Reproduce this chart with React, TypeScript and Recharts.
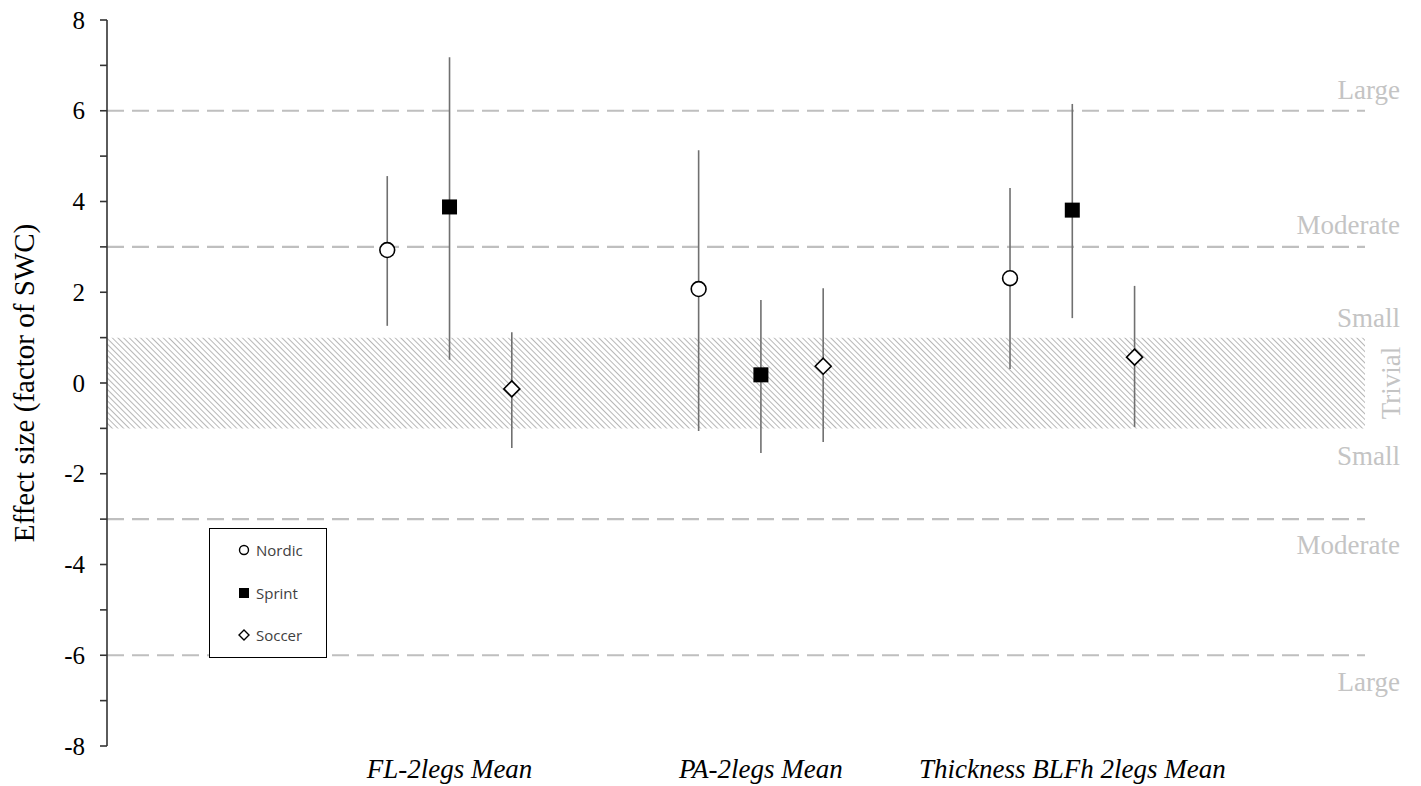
import {
  ErrorBar,
  Legend,
  ReferenceArea,
  ReferenceDot,
  ReferenceLine,
  Scatter,
  ScatterChart,
  XAxis,
  YAxis,
} from 'recharts'

const categories = ['FL-2legs Mean', 'PA-2legs Mean', 'Thickness BLFh 2legs Mean']
const categoryX = [1, 2, 3]

const seriesNames = ['Nordic', 'Sprint', 'Soccer']
const seriesX = [
  [0.8, 1.8, 2.8],
  [1, 2, 3],
  [1.2, 2.2, 3.2],
]
const seriesMean = [
  [2.93, 2.07, 2.31],
  [3.88, 0.18, 3.81],
  [-0.13, 0.37, 0.57],
]
const seriesLow = [
  [1.26, -1.06, 0.31],
  [0.51, -1.54, 1.43],
  [-1.43, -1.3, -0.97],
]
const seriesHigh = [
  [4.56, 5.13, 4.3],
  [7.18, 1.83, 6.15],
  [1.12, 2.09, 2.14],
]

const yTicks = [-8, -7, -6, -5, -4, -3, -2, -1, 0, 1, 2, 3, 4, 5, 6, 7, 8]
const thresholds = [6, 3, -3, -6]
const trivialBand = [-1, 1]
const zoneLabels = [
  { text: 'Large', y: 6.45 },
  { text: 'Moderate', y: 3.48 },
  { text: 'Small', y: 1.43 },
  { text: 'Small', y: -1.6 },
  { text: 'Moderate', y: -3.57 },
  { text: 'Large', y: -6.6 },
]

const X_MIN = -0.1
const X_MAX = 3.94
const SERIF = '"Liberation Serif", "Times New Roman", serif'
const LABEL_GRAY = '#c4c4c4'

const seriesData = seriesNames.map((_, s) =>
  seriesX[s].map((x, i) => ({
    x,
    y: seriesMean[s][i],
    err: [seriesMean[s][i] - seriesLow[s][i], seriesHigh[s][i] - seriesMean[s][i]],
  })),
)

function CircleMark(props: any) {
  return <circle cx={props.cx} cy={props.cy} r={7.4} fill="#fff" stroke="#000" strokeWidth={1.6} />
}

function SquareMark(props: any) {
  return <rect x={props.cx - 7.5} y={props.cy - 7.5} width={15} height={15} fill="#000" />
}

function DiamondMark(props: any) {
  const { cx, cy } = props
  return (
    <path
      d={`M${cx},${cy - 8}L${cx + 8},${cy}L${cx},${cy + 8}L${cx - 8},${cy}Z`}
      fill="#fff"
      stroke="#000"
      strokeWidth={1.6}
    />
  )
}

const shapes = [CircleMark, SquareMark, DiamondMark]

function YTick(props: any) {
  const { x, y, payload } = props
  if (payload.value % 2 !== 0) return null
  return (
    <text x={x} y={y} textAnchor="end" dominantBaseline="central" fontFamily={SERIF} fontSize={25} fill="#000">
      {payload.value}
    </text>
  )
}

function LegendIcon({ index }: { index: number }) {
  return (
    <svg width={12} height={12} style={{ display: 'block' }}>
      {index === 0 && <circle cx={6} cy={6} r={4.5} fill="#fff" stroke="#000" strokeWidth={1.4} />}
      {index === 1 && <rect x={1} y={1} width={10} height={10} fill="#000" />}
      {index === 2 && <path d="M6,1L11,6L6,11L1,6Z" fill="#fff" stroke="#000" strokeWidth={1.4} />}
    </svg>
  )
}

function LegendBox() {
  return (
    <div
      style={{
        width: 118,
        height: 130,
        boxSizing: 'border-box',
        border: '1.5px solid #000',
        background: '#fff',
        fontFamily: '"Open Sans", "Noto Sans", sans-serif',
        fontSize: 15,
        color: '#404040',
      }}
    >
      {seriesNames.map((name, i) => (
        <div key={name} style={{ height: 42.5, display: 'flex', alignItems: 'center', paddingLeft: 28 }}>
          <LegendIcon index={i} />
          <span style={{ marginLeft: 6 }}>{name}</span>
        </div>
      ))}
    </div>
  )
}

export default function App() {
  return (
    <div style={{ position: 'absolute', left: 0, top: 0, background: '#fff', fontFamily: SERIF }}>
      <ScatterChart width={1421} height={786} margin={{ top: 20, right: 56, bottom: 0, left: 0 }}>
        <defs>
          <pattern id="hatch" width={4} height={4} patternUnits="userSpaceOnUse" patternTransform="rotate(-45)">
            <rect width={4} height={4} fill="#fff" />
            <line x1={0} y1={0} x2={0} y2={4} stroke="#aaaaaa" strokeWidth={1.7} />
          </pattern>
        </defs>
        <XAxis
          type="number"
          dataKey="x"
          domain={[X_MIN, X_MAX]}
          ticks={categoryX}
          tickFormatter={(v) => categories[categoryX.indexOf(v)] ?? ''}
          axisLine={false}
          tickLine={false}
          tickSize={0}
          tickMargin={13}
          height={40}
          interval={0}
          tick={{ fill: '#000', fontSize: 27, fontStyle: 'italic', fontFamily: SERIF }}
        />
        <YAxis
          type="number"
          dataKey="y"
          domain={[-8, 8]}
          ticks={yTicks}
          interval={0}
          width={107}
          axisLine={{ stroke: '#333', strokeWidth: 1.6 }}
          tickLine={{ stroke: '#333', strokeWidth: 1.6 }}
          tickSize={7}
          tickMargin={15}
          tick={<YTick />}
          label={{
            content: ({ viewBox }: any) => {
              const cx = viewBox.x + 24
              const cy = viewBox.y + viewBox.height / 2
              return (
                <text
                  x={cx}
                  y={cy}
                  transform={`rotate(-90, ${cx}, ${cy})`}
                  textAnchor="middle"
                  dominantBaseline="central"
                  fontFamily={SERIF}
                  fontSize={29}
                  fill="#000"
                >
                  Effect size (factor of SWC)
                </text>
              )
            },
          }}
        />
        <ReferenceArea
          y1={trivialBand[0]}
          y2={trivialBand[1]}
          fill="url(#hatch)"
          fillOpacity={1}
          stroke="none"
          ifOverflow="extendDomain"
        />
        {thresholds.map((t) => (
          <ReferenceLine key={t} y={t} stroke="#bfbfbf" strokeWidth={2.2} strokeDasharray="17 8" />
        ))}
        {zoneLabels.map((z, i) => (
          <ReferenceDot
            key={i}
            x={X_MAX}
            y={z.y}
            r={1}
            fill="none"
            stroke="none"
            label={{
              content: ({ viewBox }: any) => (
                <text
                  x={viewBox.x + viewBox.width / 2 + 35}
                  y={viewBox.y + viewBox.height / 2}
                  textAnchor="end"
                  dominantBaseline="central"
                  fontFamily={SERIF}
                  fontSize={27}
                  fill={LABEL_GRAY}
                >
                  {z.text}
                </text>
              ),
            }}
          />
        ))}
        <ReferenceDot
          x={X_MAX}
          y={0}
          r={1}
          fill="none"
          stroke="none"
          label={{
            content: ({ viewBox }: any) => {
              const cx = viewBox.x + viewBox.width / 2 + 26
              const cy = viewBox.y + viewBox.height / 2
              return (
                <text
                  x={cx}
                  y={cy}
                  transform={`rotate(-90, ${cx}, ${cy})`}
                  textAnchor="middle"
                  dominantBaseline="central"
                  fontFamily={SERIF}
                  fontSize={27}
                  fill={LABEL_GRAY}
                >
                  Trivial
                </text>
              )
            },
          }}
        />
        {seriesNames.map((name, s) => (
          <Scatter key={name} name={name} data={seriesData[s]} shape={shapes[s]} isAnimationActive={false}>
            <ErrorBar dataKey="err" direction="y" width={0} stroke="#707070" strokeWidth={1.6} />
          </Scatter>
        ))}
        <Legend
          layout="vertical"
          align="center"
          verticalAlign="middle"
          wrapperStyle={{ position: 'absolute', left: 209, top: 528, width: 118, height: 130 }}
          content={() => <LegendBox />}
        />
      </ScatterChart>
    </div>
  )
}
